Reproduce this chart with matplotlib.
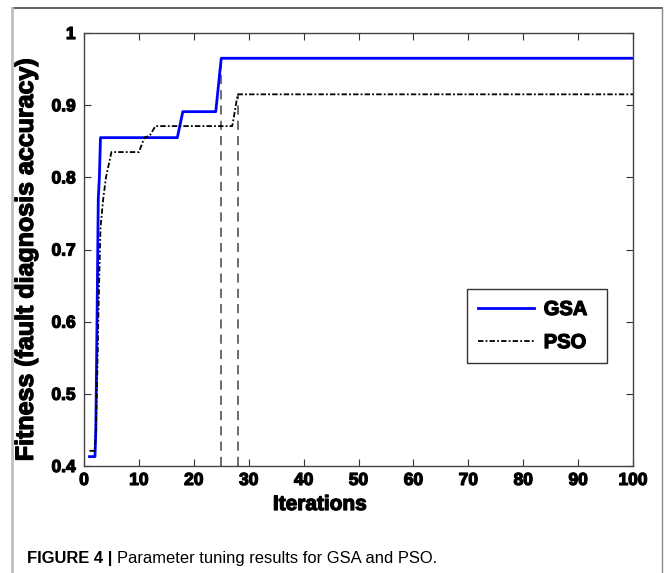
import numpy as np
import matplotlib.pyplot as plt
import matplotlib.patheffects as pe
from matplotlib.lines import Line2D

# data
gsa_x = [1, 2, 2.15, 2.3, 2.45, 2.6, 2.8, 3, 17, 18, 24, 25, 100]
gsa_y = [0.413, 0.413, 0.45, 0.55, 0.66, 0.77, 0.80, 0.855, 0.855, 0.891, 0.891, 0.965, 0.965]

pso_x = [1, 2, 2.2, 2.4, 2.6, 2.8, 3, 3.5, 4, 5, 10, 11, 12, 13, 27, 28, 100]
pso_y = [0.421, 0.421, 0.46, 0.52, 0.60, 0.67, 0.73, 0.77, 0.80, 0.835, 0.835, 0.855, 0.858, 0.871, 0.871, 0.915, 0.915]

# vertical markers: iteration where each method converged
conv_x = [25, 28]
conv_top = [0.965, 0.915]

xticks = np.arange(0, 101, 10)
yticks = [0.4, 0.5, 0.6, 0.7, 0.8, 0.9, 1.0]
ytick_labels = ['0.4', '0.5', '0.6', '0.7', '0.8', '0.9', '1']

plt.rcParams['font.family'] = ['Liberation Sans', 'DejaVu Sans']
heavy = [pe.withStroke(linewidth=0.9, foreground='black')]

fig = plt.figure(figsize=(6.64, 5.73), dpi=100)
W, H = 664, 573
ax = fig.add_axes([84 / W, 1 - 466 / H, 549 / W, 433 / H])

for xv, top in zip(conv_x, conv_top):
    ax.plot([xv, xv], [0.4, top], color='#444444', lw=1.1, ls=(0, (6, 4)))

ax.plot(gsa_x, gsa_y, color='#0000ff', lw=2, label='GSA')
ax.plot(pso_x, pso_y, color='black', lw=1.3, ls=(0, (3, 1.2, 1, 1.2)), label='PSO')

ax.set_xlim(0, 100)
ax.set_ylim(0.4, 1.0)
ax.set_xticks(xticks)
ax.set_yticks(yticks)
ax.set_yticklabels(ytick_labels)
ax.tick_params(direction='in', top=True, right=True, length=5, width=0.8,
               labelsize=12.5, color='#333333')
ax.tick_params(axis='y', pad=6)
ax.tick_params(axis='x', pad=5)
for lab in ax.get_xticklabels() + ax.get_yticklabels():
    lab.set_fontweight('bold')
    lab.set_path_effects(heavy)
for sp in ax.spines.values():
    sp.set_color('#444444')
    sp.set_linewidth(1)

ax.set_xlabel('Iterations', fontsize=15, fontweight='bold', path_effects=heavy)
ax.xaxis.set_label_coords(0.43, -0.067)
ax.set_ylabel('Fitness (fault diagnosis accuracy)', fontsize=18, fontweight='bold',
              path_effects=heavy)
ax.yaxis.set_label_coords(-0.084, 0.476)

leg = ax.legend(loc='upper left', bbox_to_anchor=(0.698, 0.229, 0.255, 0.18),
                mode='expand', borderaxespad=0,
                fancybox=False, edgecolor='#333333', framealpha=1,
                prop={'weight': 'bold', 'size': 14.5}, handlelength=2.75,
                borderpad=0.55, labelspacing=0.7, handletextpad=0.5)
leg.get_frame().set_linewidth(1)
for t in leg.get_texts():
    t.set_path_effects(heavy)

# outer frame of the figure panel
fig.add_artist(Line2D([12 / W, 662 / W], [1 - 8 / H, 1 - 8 / H], color='#444444', lw=1.2))
fig.add_artist(Line2D([12 / W, 12 / W], [0, 1 - 8 / H], color='#c0c0c0', lw=2))
fig.add_artist(Line2D([662 / W, 662 / W], [0, 1 - 8 / H], color='#888888', lw=1))

fig.text(27 / W, 1 - 563 / H, 'FIGURE 4 |', fontsize=11.9, fontweight='bold', va='baseline')
fig.text(117 / W, 1 - 563 / H, 'Parameter tuning results for GSA and PSO.',
         fontsize=11.9, va='baseline')

fig.savefig('out.png', dpi=100)
